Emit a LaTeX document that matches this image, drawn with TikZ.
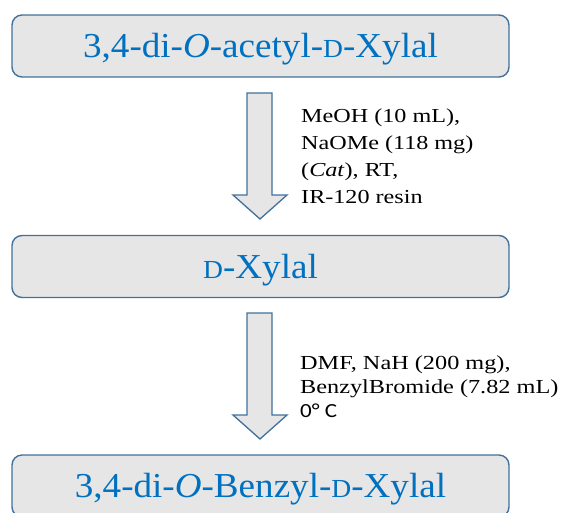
\documentclass[tikz,border=0pt]{standalone}
\usepackage{fontspec}
\setmainfont{Liberation Serif}
\newfontfamily\boxfont[FakeStretch=1.06]{Liberation Serif}
\newfontfamily\condfont[FakeStretch=1.22]{Liberation Serif}
\newfontfamily\calfont[FakeStretch=1.15]{Carlito}
\definecolor{txtblue}{HTML}{0070C0}
\definecolor{boxfill}{HTML}{E7E6E6}
\definecolor{boxline}{HTML}{41719C}
\newcommand{\scD}{{\fontsize{26}{26}\selectfont D}}
\tikzset{
  stagebox/.style={draw=boxline, line width=1.4pt, fill=boxfill, rounded corners=10pt,
    minimum width=497pt, minimum height=62pt, inner sep=0pt,
    text height=23pt, text depth=0pt, text=txtblue,
    font=\boxfont\fontsize{35}{35}\selectfont},
  blockarrow/.style={draw=boxline, line width=1.3pt, fill=boxfill, line join=miter},
  condtext/.style={anchor=base west, align=left, inner sep=0pt, text=black}
}
\begin{document}
\begin{tikzpicture}[x=1pt,y=-1pt]
\useasboundingbox (0,0) rectangle (561,512);
\node[stagebox] (b1) at (260.5,46) {3,4-di-\textit{O}-acetyl-\scD-Xylal};
\node[stagebox] (b2) at (260.5,266.5) {\scD-Xylal};
\node[stagebox] (b3) at (260.5,486) {3,4-di-\textit{O}-Benzyl-\scD-Xylal};
% block arrow 1
\coordinate (a1) at (260,93);
\draw[blockarrow] (247,93) -- (272,93) -- (272,195) -- (287,195) -- (260,219) -- (233,195) -- (247,195) -- cycle;
% block arrow 2
\coordinate (a2) at (260,313);
\draw[blockarrow] (247,313) -- (272,313) -- (272,415) -- (287,415) -- (260,439) -- (233,415) -- (247,415) -- cycle;
\node[condtext, font=\condfont\fontsize{19.8}{26.7}\selectfont] (c1) at (301,203)
  {MeOH (10 mL),\\ NaOMe (118 mg)\\ (\textit{Cat}), RT,\\ IR-120 resin};
\node[condtext, font=\condfont\fontsize{19.9}{24}\selectfont] (c2) at (300,417)
  {DMF, NaH (200 mg),\\ BenzylBromide (7.82 mL)\\ {\calfont\fontsize{20}{24}\selectfont 0° C}};
\end{tikzpicture}
\end{document}
